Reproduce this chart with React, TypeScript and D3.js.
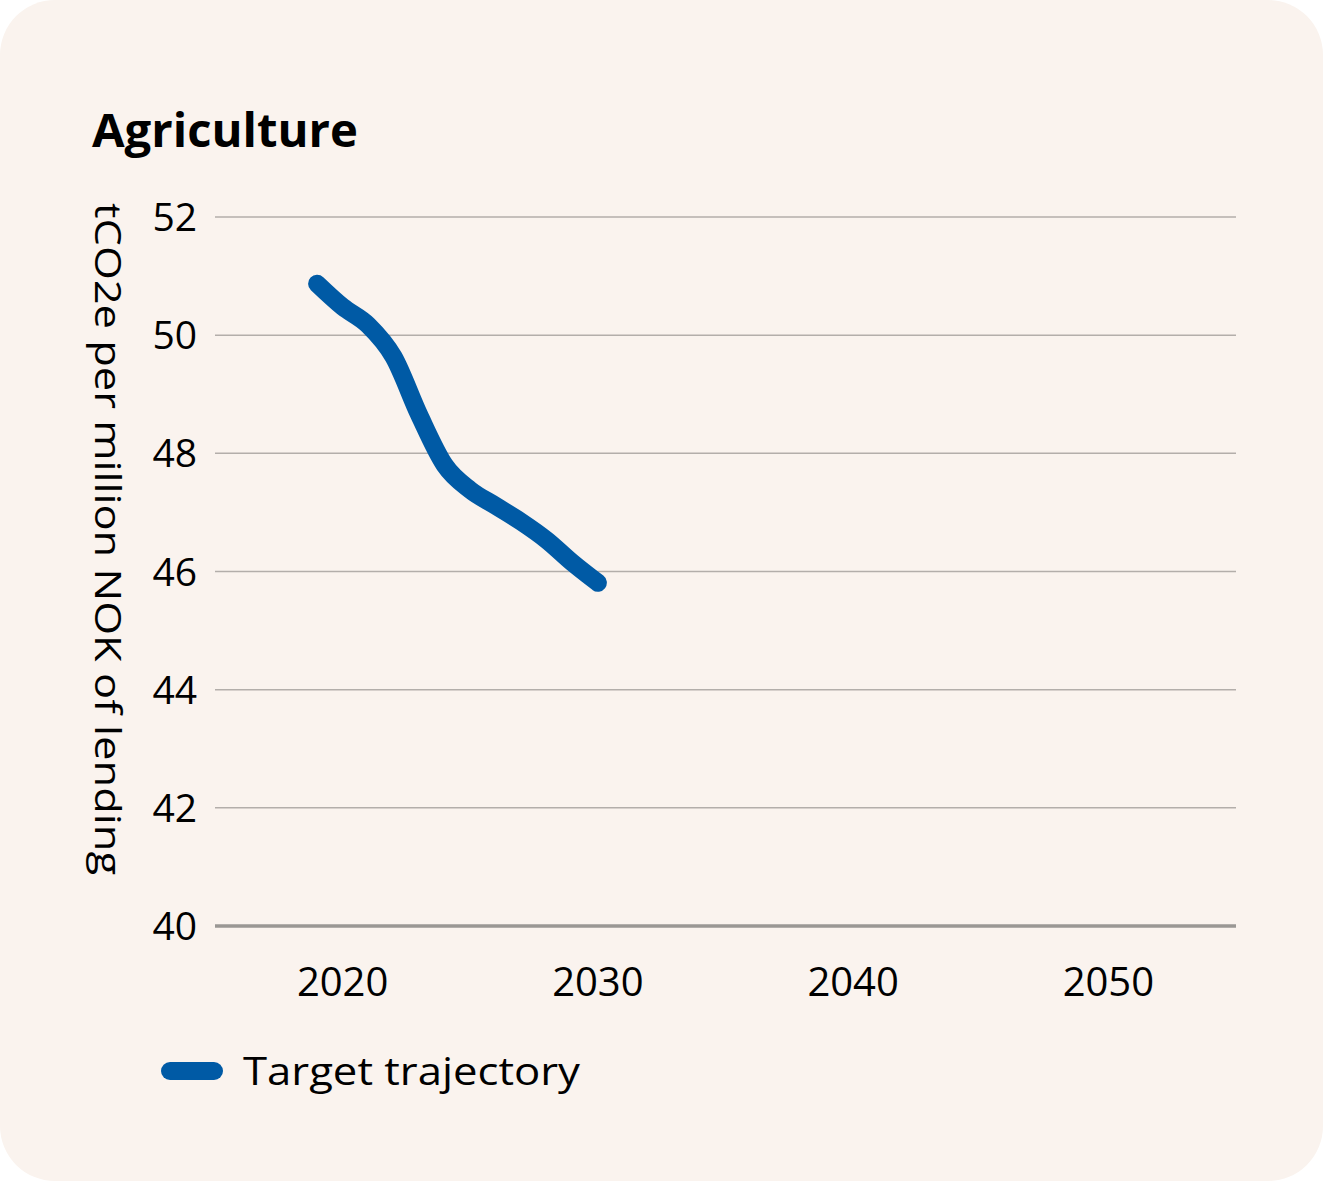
import React from "react";
import * as d3 from "d3";

const years = [2019, 2020, 2021, 2022, 2023, 2024, 2025, 2026, 2027, 2028, 2029, 2030];
const values = [50.87, 50.48, 50.17, 49.63, 48.65, 47.8, 47.38, 47.11, 46.84, 46.53, 46.15, 45.81];
const yTicks = [40, 42, 44, 46, 48, 50, 52];
const xTicks = [2020, 2030, 2040, 2050];
const title = "Agriculture";
const yLabel = "tCO2e per million NOK of lending";
const seriesName = "Target trajectory";

const W = 1323;
const H = 1181;
const FONT = "'Open Sans', Lato, sans-serif";
const BLUE = "#005AA5";

export default function App() {
  const x = d3.scaleLinear().domain([2015, 2055]).range([215, 1236]);
  const y = d3.scaleLinear().domain([40, 52]).range([926, 217]);
  const data = years.map((yr, i) => ({ yr, v: values[i] }));
  const line = d3
    .line<{ yr: number; v: number }>()
    .x((d) => x(d.yr))
    .y((d) => y(d.v))
    .curve(d3.curveMonotoneX);

  return (
    <svg
      width={W}
      height={H}
      style={{ position: "absolute", left: 0, top: 0 }}
      fontFamily={FONT}
    >
      <rect x={0} y={0} width={W} height={H} rx={55} ry={55} fill="#FAF3EE" />
      <text
        x={92}
        y={147}
        fontSize={46}
        fontWeight={700}
        fill="#000"
        textLength={266}
        lengthAdjust="spacingAndGlyphs"
      >
        {title}
      </text>
      <text
        transform={`translate(${95},${203}) rotate(90)`}
        fontSize={37}
        fill="#000"
        textAnchor="start"
        textLength={672}
        lengthAdjust="spacingAndGlyphs"
      >
        {yLabel}
      </text>
      {yTicks.map((t) => (
        <g key={t}>
          <line
            x1={215}
            x2={1236}
            y1={y(t)}
            y2={y(t)}
            stroke={t === 40 ? "#9a9794" : "#b3aeaa"}
            strokeWidth={t === 40 ? 3.5 : 1.5}
          />
          <text x={197} y={y(t) + 14} fontSize={39} textAnchor="end" fill="#000">
            {t}
          </text>
        </g>
      ))}
      {xTicks.map((t) => (
        <text key={t} x={x(t)} y={996} fontSize={40} textAnchor="middle" fill="#000">
          {t}
        </text>
      ))}
      <path
        d={line(data) || ""}
        fill="none"
        stroke={BLUE}
        strokeWidth={18}
        strokeLinecap="round"
        strokeLinejoin="round"
      />
      <line x1={170} x2={214} y1={1071} y2={1071} stroke={BLUE} strokeWidth={18} strokeLinecap="round" />
      <text
        x={243}
        y={1085}
        fontSize={39}
        fill="#000"
        textLength={337}
        lengthAdjust="spacingAndGlyphs"
      >
        {seriesName}
      </text>
    </svg>
  );
}
